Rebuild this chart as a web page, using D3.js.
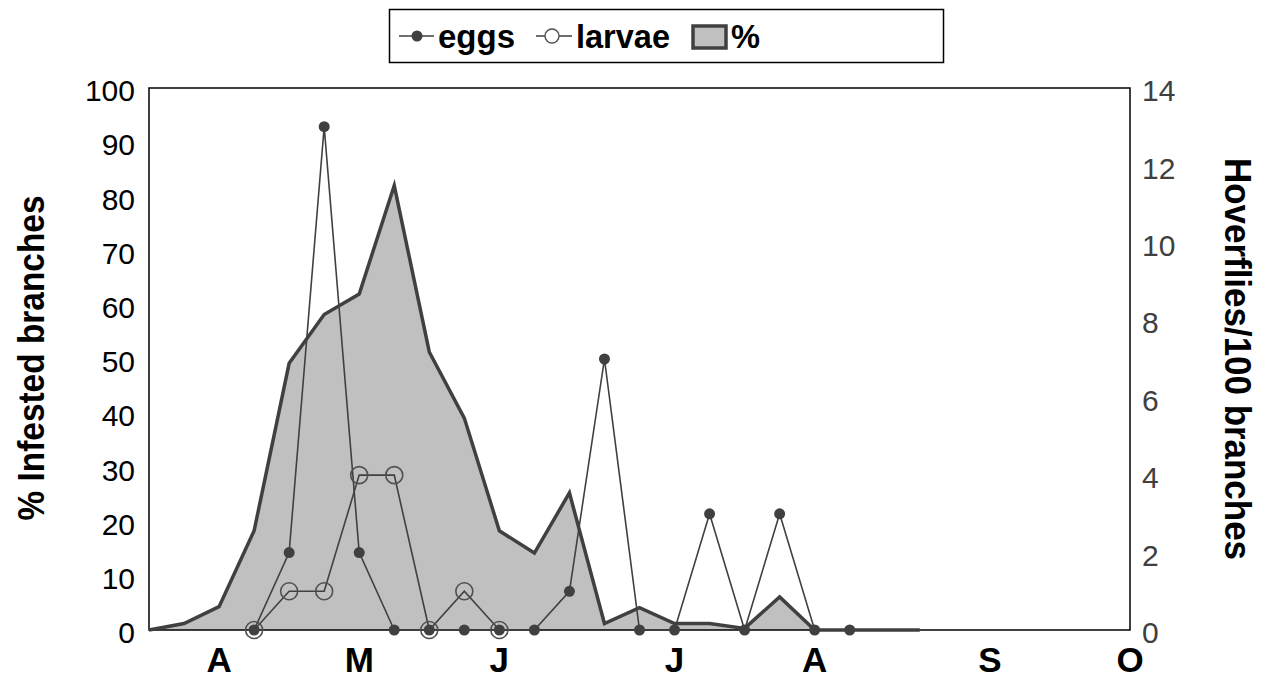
<!DOCTYPE html>
<html>
<head>
<meta charset="utf-8">
<script src="https://cdn.jsdelivr.net/npm/d3@7"></script>
<style>
  html, body { margin: 0; padding: 0; background: #fff; }
  svg { display: block; font-family: "Liberation Sans", Arial, Helvetica, sans-serif; }
</style>
</head>
<body>
<svg id="chart" width="1263" height="679"></svg>
<script>
// Weekly samples, index 0 .. 28 along the season
const sampleCount = 29;

// % infested branches (left axis), one value per sample
const pctInfested = [0, 1.2, 4.3, 18.3, 49.2, 58.2, 62, 82, 51.3, 39.1, 18.3, 14.2, 25.3,
                     1.2, 4.1, 1.2, 1.2, 0.3, 6.1, 0, 0, 0, 0];

// Hoverflies per 100 branches (right axis); null = not sampled
const eggs = [null, null, null, 0, 2, 13, 2, 0, 0, 0, 0, 0, 1, 7, 0, 0, 3, 0, 3, 0, 0];
const larvae = [null, null, null, 0, 1, 1, 4, 4, 0, 1, 0];

// Month labels and the sample index where each one sits
const monthLabels = ["A", "M", "J", "J", "A", "S", "O"];
const monthAt = [2, 6, 10, 15, 19, 24, 28];

const leftTicks = [0, 10, 20, 30, 40, 50, 60, 70, 80, 90, 100];
const rightTicks = [0, 2, 4, 6, 8, 10, 12, 14];

const legendItems = ["eggs", "larvae", "%"];

const svg = d3.select("#chart");
const plot = { left: 149, right: 1130, top: 88, bottom: 630 };

const x = d3.scaleLinear().domain([0, sampleCount - 1]).range([plot.left, plot.right]);
const yL = d3.scaleLinear().domain([0, 100]).range([plot.bottom, plot.top]);
const yR = d3.scaleLinear().domain([0, 14]).range([plot.bottom, plot.top]);

const dark = "#404040";

// Shaded area for % infested
const area = d3.area()
  .x((d, i) => x(i))
  .y0(yL(0))
  .y1(d => yL(d));
svg.append("path")
  .datum(pctInfested)
  .attr("d", area)
  .attr("fill", "#c0c0c0");

// Plot frame
svg.append("rect")
  .attr("x", plot.left).attr("y", plot.top)
  .attr("width", plot.right - plot.left).attr("height", plot.bottom - plot.top)
  .attr("fill", "none").attr("stroke", "#000").attr("stroke-width", 1.5);

// Outline of the area
svg.append("path")
  .datum(pctInfested)
  .attr("d", d3.line().x((d, i) => x(i)).y(d => yL(d)))
  .attr("fill", "none").attr("stroke", dark).attr("stroke-width", 3.5)
  .attr("stroke-linejoin", "miter");

const seriesLine = d3.line()
  .defined(d => d !== null)
  .x((d, i) => x(i))
  .y(d => yR(d));

// Larvae: thin line with open circles
svg.append("path")
  .datum(larvae)
  .attr("d", seriesLine)
  .attr("fill", "none").attr("stroke", dark).attr("stroke-width", 1.6);

// Eggs: thin line with filled dots
svg.append("path")
  .datum(eggs)
  .attr("d", seriesLine)
  .attr("fill", "none").attr("stroke", dark).attr("stroke-width", 1.6);

svg.append("g").selectAll("circle")
  .data(larvae.map((v, i) => ({ v, i })).filter(d => d.v !== null))
  .join("circle")
  .attr("cx", d => x(d.i)).attr("cy", d => yR(d.v)).attr("r", 8.5)
  .attr("fill", "none").attr("stroke", "#505050").attr("stroke-width", 1.6);

svg.append("g").selectAll("circle")
  .data(eggs.map((v, i) => ({ v, i })).filter(d => d.v !== null))
  .join("circle")
  .attr("cx", d => x(d.i)).attr("cy", d => yR(d.v)).attr("r", 5.5)
  .attr("fill", dark);

// Left axis labels
const gL = svg.append("g")
  .attr("transform", `translate(${plot.left},0)`)
  .call(d3.axisLeft(yL).tickValues(leftTicks).tickSize(0).tickPadding(14));
gL.select(".domain").remove();
gL.selectAll("text")
  .attr("font-size", 30).attr("fill", "#000")
  .attr("font-family", "Liberation Sans, Arial, sans-serif")
  .attr("dy", "0.42em");

// Right axis labels
const gR = svg.append("g")
  .attr("transform", `translate(${plot.right},0)`)
  .call(d3.axisRight(yR).tickValues(rightTicks).tickSize(0).tickPadding(12));
gR.select(".domain").remove();
gR.selectAll("text")
  .attr("font-size", 30).attr("fill", "#404040")
  .attr("font-family", "Liberation Sans, Arial, sans-serif")
  .attr("dy", "0.42em");

// Month labels under the plot
svg.append("g").selectAll("text")
  .data(monthLabels)
  .join("text")
  .attr("x", (d, i) => x(monthAt[i]))
  .attr("y", 672)
  .attr("text-anchor", "middle")
  .attr("font-size", 35).attr("font-weight", "bold")
  .text(d => d);

// Axis titles
svg.append("text")
  .attr("transform", "translate(44,358) rotate(-90)")
  .attr("text-anchor", "middle")
  .attr("font-size", 37).attr("font-weight", "bold")
  .attr("textLength", 325).attr("lengthAdjust", "spacingAndGlyphs")
  .text("% Infested branches");

svg.append("text")
  .attr("transform", "translate(1225,359) rotate(90)")
  .attr("text-anchor", "middle")
  .attr("font-size", 37).attr("font-weight", "bold")
  .attr("textLength", 402).attr("lengthAdjust", "spacingAndGlyphs")
  .text("Hoverflies/100 branches");

// Legend
const lg = svg.append("g");
lg.append("rect")
  .attr("x", 389.5).attr("y", 9.5).attr("width", 554).attr("height", 53)
  .attr("fill", "#fff").attr("stroke", "#000").attr("stroke-width", 1.5);

const ly = 36;
// eggs marker
lg.append("line").attr("x1", 399).attr("x2", 434).attr("y1", ly).attr("y2", ly)
  .attr("stroke", dark).attr("stroke-width", 1.6);
lg.append("circle").attr("cx", 417).attr("cy", ly).attr("r", 5.5).attr("fill", dark);
// larvae marker
lg.append("line").attr("x1", 536).attr("x2", 572).attr("y1", ly).attr("y2", ly)
  .attr("stroke", dark).attr("stroke-width", 1.6);
lg.append("circle").attr("cx", 552).attr("cy", ly).attr("r", 7)
  .attr("fill", "#fff").attr("stroke", "#505050").attr("stroke-width", 1.4);
// % swatch
lg.append("rect").attr("x", 693).attr("y", 26).attr("width", 33).attr("height", 22)
  .attr("fill", "#c0c0c0").attr("stroke", dark).attr("stroke-width", 3.5);

const legendX = [438, 576, 731];
const legendW = [77, 94, 29];
lg.selectAll("text.lbl")
  .data(legendItems)
  .join("text")
  .attr("class", "lbl")
  .attr("x", (d, i) => legendX[i])
  .attr("y", 48)
  .attr("font-size", 33).attr("font-weight", "bold")
  .attr("textLength", (d, i) => legendW[i]).attr("lengthAdjust", "spacingAndGlyphs")
  .text(d => d);
</script>
</body>
</html>
